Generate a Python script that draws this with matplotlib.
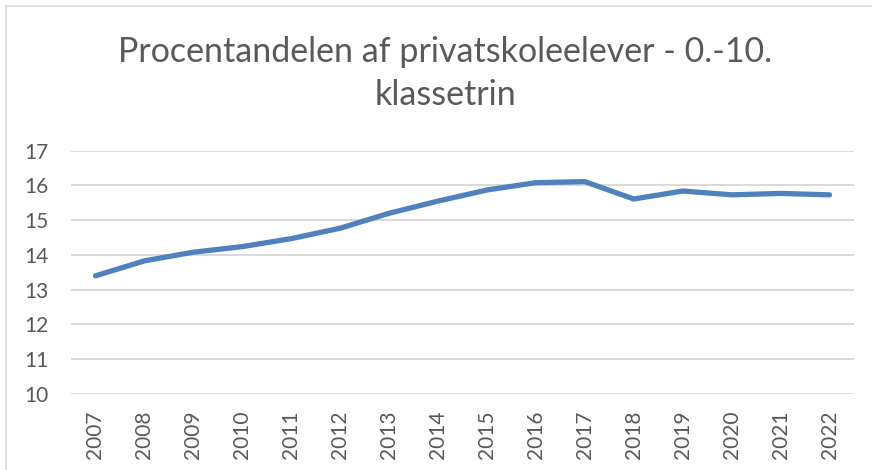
import matplotlib
matplotlib.use('Agg')
from matplotlib import pyplot as plt
from matplotlib.lines import Line2D

# data
years = ['2007', '2008', '2009', '2010', '2011', '2012', '2013', '2014',
         '2015', '2016', '2017', '2018', '2019', '2020', '2021', '2022']
andel = [13.40, 13.83, 14.08, 14.24, 14.47, 14.77, 15.20, 15.55,
         15.87, 16.08, 16.11, 15.61, 15.84, 15.73, 15.77, 15.73]
yticks = [10, 11, 12, 13, 14, 15, 16, 17]
titel = 'Procentandelen af privatskoleelever - 0.-10.\nklassetrin'

plt.rcParams['font.family'] = ['Lato', 'DejaVu Sans']
tekst = '#595959'

fig = plt.figure(figsize=(8.72, 4.70), dpi=100)
ax = fig.add_axes([71/872, 1 - 394/470, (854 - 71)/872, (394 - 150.7)/470])

x = list(range(len(years)))
ax.plot(x, andel, color='#4f81bd', linewidth=3.8, solid_capstyle='round',
        solid_joinstyle='round', zorder=3)

ax.set_xlim(-0.5, len(years) - 0.5)
ax.set_ylim(10, 17)
ax.set_yticks(yticks)
ax.set_xticks(x)
ax.set_xticklabels(years, rotation=90)
ax.grid(True, axis='y', color='#d9d9d9', linewidth=1.4)
ax.set_axisbelow(True)
for s in ax.spines.values():
    s.set_visible(False)
ax.tick_params(axis='both', length=0, labelsize=15, colors=tekst)
ax.tick_params(axis='y', pad=16)
ax.tick_params(axis='x', pad=12)

fig.text(445/872, 1 - 36/470, titel, ha='center', va='top', fontsize=24.5,
         color=tekst, linespacing=1.42)

# ramme om diagrammet
fig.add_artist(Line2D([6/872, 1], [1 - 6/470, 1 - 6/470], color='#d9d9d9',
                      linewidth=1.2, transform=fig.transFigure))
fig.add_artist(Line2D([6/872, 6/872], [0, 1 - 6/470], color='#d9d9d9',
                      linewidth=1.2, transform=fig.transFigure))

fig.savefig('out.png', dpi=100)
